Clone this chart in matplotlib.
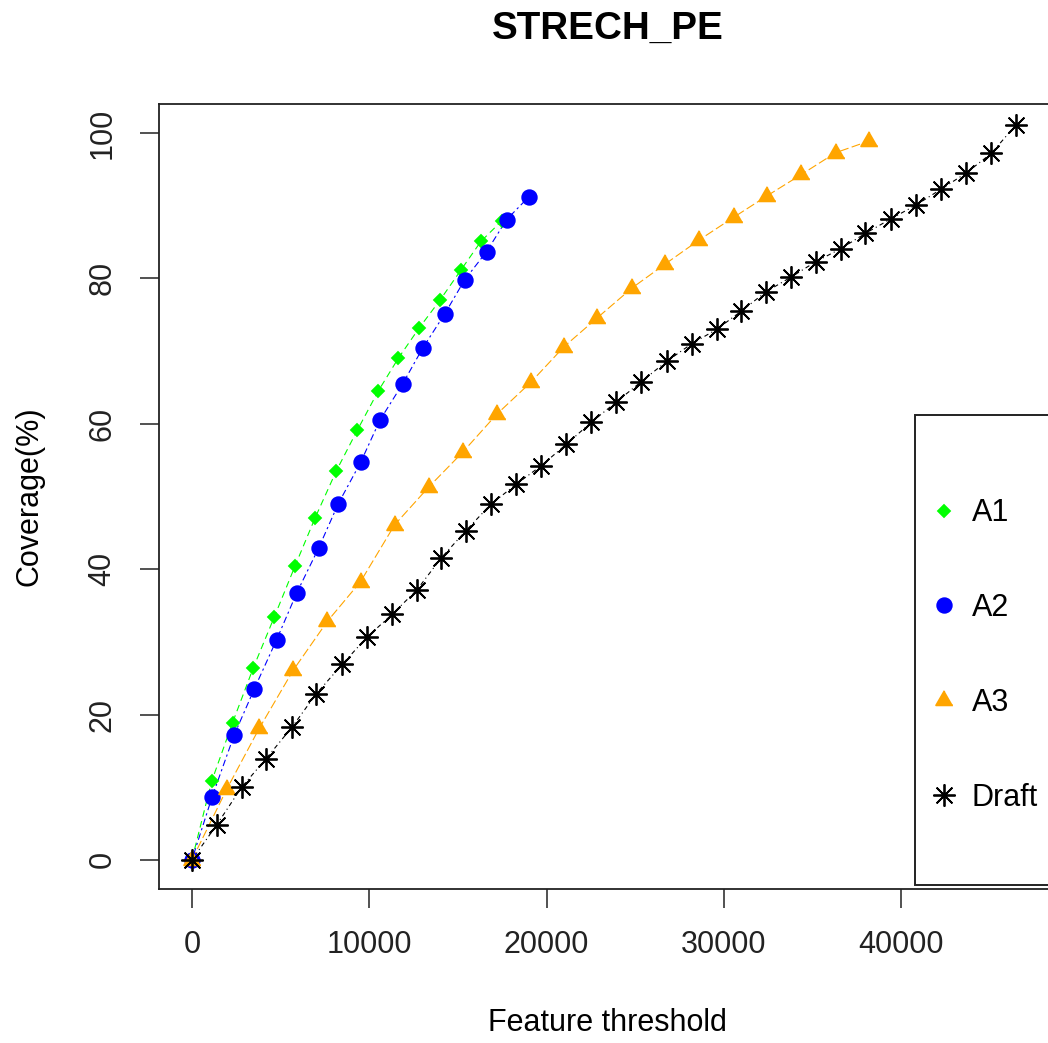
import matplotlib
matplotlib.use("Agg")
import matplotlib.pyplot as plt
from matplotlib.patches import Rectangle

# ============== data ==============
a1_x = [0, 1111, 2295, 3457, 4642, 5809, 6954, 8139, 9323, 10507, 11635,
        12820, 13987, 15155, 16300, 17467]
a1_y = [0, 10.8, 18.9, 26.4, 33.4, 40.4, 47.1, 53.5, 59.1, 64.5, 69.0,
        73.2, 77.0, 81.1, 85.1, 87.9]

a2_x = [0, 1128, 2386, 3514, 4777, 5905, 7146, 8252, 9515, 10603, 11884,
        13012, 14253, 15381, 16621, 17749, 18990]
a2_y = [0, 8.6, 17.2, 23.5, 30.3, 36.7, 42.9, 49.0, 54.7, 60.5, 65.5,
        70.4, 75.1, 79.8, 83.7, 88.1, 91.2]

a3_x = [0, 1957, 3796, 5714, 7631, 9515, 11433, 13356, 15274, 17186, 19109,
        20982, 22871, 24828, 26700, 28612, 30547, 32459, 34371, 36306, 38178]
a3_y = [0, 9.7, 18.1, 26.1, 32.8, 38.3, 46.1, 51.3, 56.1, 61.3, 65.7,
        70.6, 74.6, 78.7, 82.0, 85.3, 88.4, 91.4, 94.3, 97.3, 98.9]

draft_x = [0, 1393, 2803, 4174, 5657, 6994, 8477, 9853, 11297, 12673, 14044,
           15454, 16847, 18297, 19684, 21123, 22516, 23937, 25341, 26779,
           28178, 29600, 30981, 32397, 33802, 35178, 36599, 37981, 39419,
           40840, 42262, 43661, 45082, 46458]
draft_y = [0, 4.8, 10.0, 13.9, 18.3, 22.8, 26.9, 30.6, 33.8, 37.1, 41.5,
           45.3, 48.9, 51.7, 54.2, 57.2, 60.2, 63.0, 65.8, 68.6,
           71.0, 73.0, 75.5, 78.2, 80.2, 82.3, 84.1, 86.2, 88.2,
           90.1, 92.3, 94.5, 97.2, 101.1]

labels = ["A1", "A2", "A3", "Draft"]
x_ticks = [0, 10000, 20000, 30000, 40000]
y_ticks = [0, 20, 40, 60, 80, 100]

# ============== styles ==============
plt.rcParams['font.family'] = ['Liberation Sans', 'DejaVu Sans']
tri = [(0, 1), (-0.866, -0.5), (0.866, -0.5)]   # equilateral, centred on centroid
series = [
    (a1_x, a1_y, "#00ff00", "D", 6, (0, (6, 4))),
    (a2_x, a2_y, "#0000ff", "o", 10.5, (0, (2, 3, 6, 3))),
    (a3_x, a3_y, "#ffa500", tri, 14, (0, (8, 3))),
    (draft_x, draft_y, "black", (8, 2, 0), 16, (0, (1, 3, 4, 3))),
]

fig = plt.figure(figsize=(10.48, 10.43), dpi=100)
ax = fig.add_axes([0.1514, 0.1477, 0.857, 0.7526])

for (x, y, col, mk, ms, ls), lab in zip(series, labels):
    ax.plot(x, y, color=col, linestyle=ls, linewidth=0.8, zorder=2)
    ax.plot(x, y, color=col, linestyle="none", marker=mk, markersize=ms,
            markeredgewidth=1.3, label=lab, zorder=3)

ax.set_xlim(-1876, 48776)
ax.set_ylim(-4, 104)
ax.set_xticks(x_ticks)
ax.set_yticks(y_ticks)
ax.tick_params(axis="both", labelsize=22, length=13.7, width=1.1, pad=16,
               colors="#222222")
plt.setp(ax.get_yticklabels(), rotation=90, va="center")
for s in ax.spines.values():
    s.set_linewidth(1.3)
    s.set_color("#222222")

ax.set_xlabel("Feature threshold", fontsize=22)
ax.xaxis.set_label_coords(0.5, -0.152)
ax.set_ylabel("Coverage(%)", fontsize=22)
ax.yaxis.set_label_coords(-0.127, 0.5)
ax.set_title("STRECH_PE", fontsize=27.8, fontweight="bold", pad=47)

# ============== legend box (runs off the right edge like the original) ==============
ax.add_patch(Rectangle((0.842, 0.005), 0.5, 0.5988, transform=ax.transAxes,
                       facecolor="white", edgecolor="#222222", linewidth=1.4,
                       clip_on=False, zorder=4))
leg = ax.legend(loc="center left", bbox_to_anchor=(0.857, 0.2975),
                frameon=False, fontsize=22, borderpad=0, borderaxespad=0,
                handlelength=1.0, handletextpad=0.42, labelspacing=2.12)
leg.set_zorder(5)

fig.savefig("out.png", dpi=100)
